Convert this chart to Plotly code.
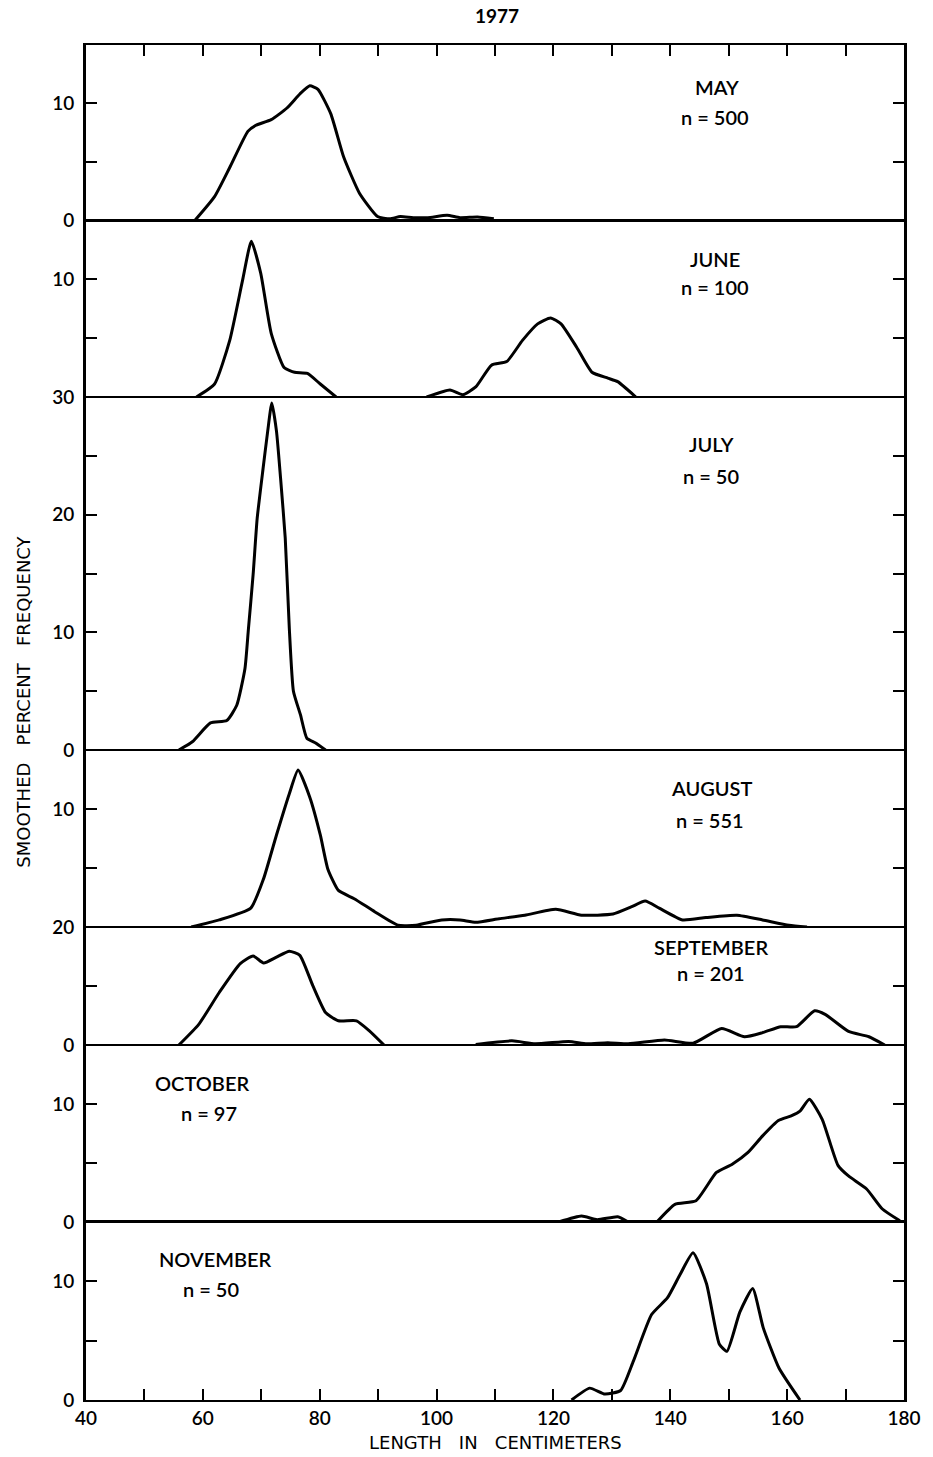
import plotly.graph_objects as go
from plotly.subplots import make_subplots

# ---------------- data ----------------
may_x = [58.7, 62.0, 64.6, 67.7, 69.0, 71.7, 74.4, 76.6, 78.3, 79.7, 81.9, 84.1, 86.8, 89.9, 92.0, 93.8, 96.0, 98.5, 101.8, 104.0, 107.0, 109.8]
may_y = [0.0, 2.0, 4.5, 7.6, 8.1, 8.6, 9.6, 10.8, 11.5, 11.2, 9.1, 5.4, 2.3, 0.3, 0.1, 0.3, 0.2, 0.2, 0.4, 0.2, 0.25, 0.1]

june_x = [58.9, 62.0, 64.6, 66.8, 68.3, 69.9, 71.7, 73.9, 75.7, 77.9, 80.1, 82.8,
          None,
          98.3, 102.3, 104.5, 106.7, 109.4, 112.0, 114.7, 117.3, 119.5, 121.3, 124.0, 126.6, 129.3, 131.0, 134.1]
june_y = [0.0, 1.1, 4.8, 9.9, 13.2, 10.5, 5.4, 2.5, 2.1, 2.0, 1.1, 0.0,
          None,
          0.0, 0.6, 0.2, 0.85, 2.7, 3.0, 4.8, 6.2, 6.7, 6.2, 4.2, 2.1, 1.6, 1.3, 0.0]

july_x = [55.9, 58.2, 61.3, 64.1, 65.8, 67.2, 67.8, 68.6, 69.3, 70.3, 71.1, 71.8, 72.6, 73.3, 74.1, 74.8, 75.5, 76.7, 77.8, 79.3, 81.0]
july_y = [0.0, 0.7, 2.3, 2.5, 3.8, 6.9, 10.3, 14.9, 19.7, 23.9, 27.1, 29.5, 27.1, 23.1, 18.0, 10.3, 5.0, 3.0, 1.0, 0.6, 0.0]

aug_x = [58.0, 62.8, 68.2, 70.4, 72.6, 74.8, 76.3, 78.3, 80.1, 81.4, 83.2, 85.9, 89.4, 93.4, 96.5, 100.9, 104.0, 106.7,
         110.7, 115.1, 120.4, 124.8, 130.2, 133.3, 135.7, 138.1, 142.1, 146.1, 151.4, 155.8, 160.3, 163.4]
aug_y = [0.0, 0.6, 1.6, 4.1, 7.8, 11.3, 13.3, 11.0, 7.8, 4.9, 3.1, 2.4, 1.3, 0.15, 0.15, 0.6, 0.6, 0.4,
         0.7, 1.0, 1.5, 1.0, 1.1, 1.7, 2.2, 1.6, 0.6, 0.8, 1.0, 0.6, 0.15, 0.0]

sep_x = [55.9, 59.3, 62.8, 66.4, 68.6, 70.4, 72.6, 74.8, 76.6, 78.8, 81.0, 83.2, 86.3, 88.5, 91.0,
         None,
         106.7, 112.9, 116.9, 122.6, 125.7, 129.3, 132.8, 139.0, 143.9, 148.8, 152.7, 155.8, 158.9, 161.6, 164.7, 166.5, 170.5, 174.0, 176.7]
sep_y = [0.0, 3.5, 8.9, 13.8, 15.1, 13.9, 14.9, 15.9, 15.2, 10.1, 5.5, 4.1, 4.1, 2.4, 0.0,
         None,
         0.1, 0.7, 0.2, 0.6, 0.2, 0.4, 0.2, 0.85, 0.3, 2.8, 1.4, 2.1, 3.1, 3.1, 5.8, 5.2, 2.3, 1.4, 0.0]

oct_x = [120.9, 124.8, 127.5, 131.0, 132.8,
         None,
         137.7, 140.8, 144.4, 147.9, 150.6, 153.3, 155.8, 158.5, 160.7, 162.2, 163.8, 166.0, 168.7, 170.5, 173.6, 176.3, 179.3]
oct_y = [0.0, 0.5, 0.2, 0.45, 0.0,
         None,
         0.0, 1.5, 1.8, 4.2, 4.9, 5.9, 7.3, 8.6, 9.0, 9.4, 10.4, 8.7, 4.8, 3.9, 2.8, 1.1, 0.1]

nov_x = [123.1, 126.2, 128.8, 131.5, 133.7, 136.8, 139.5, 141.7, 143.9, 146.2, 148.4, 149.7, 151.9, 154.1, 155.9, 158.6, 162.2]
nov_y = [0.0, 1.0, 0.5, 0.8, 3.3, 7.2, 8.6, 10.6, 12.4, 9.8, 4.7, 4.1, 7.4, 9.4, 6.1, 2.7, 0.0]

month_names = ["MAY", "JUNE", "JULY", "AUGUST", "SEPTEMBER", "OCTOBER", "NOVEMBER"]
sample_sizes = ["n = 500", "n = 100", "n = 50", "n = 551", "n = 201", "n = 97", "n = 50"]
series_x = [may_x, june_x, july_x, aug_x, sep_x, oct_x, nov_x]
series_y = [may_y, june_y, july_y, aug_y, sep_y, oct_y, nov_y]

y_ranges = [[0, 15], [0, 15], [0, 30], [0, 15], [0, 20], [0, 15], [0, 15]]
y_tickvals = [[0, 5, 10], [5, 10], [0, 5, 10, 15, 20, 25, 30], [5, 10], [0, 10, 20], [0, 5, 10], [0, 5, 10]]
y_ticktext = [["0", "", "10"], ["", "10"], ["0", "", "10", "", "20", "", "30"], ["", "10"], ["0", "", "20"],
              ["0", "", "10"], ["0", "", "10"]]

x_tickvals = list(range(40, 181, 10))
x_ticktext = [str(v) if v % 20 == 0 else "" for v in x_tickvals]

# ---------------- figure ----------------
W, H = 933, 1457
ML, MR, MT, MB = 86, 20, 45, 57
row_px = [175, 177, 353, 177, 118, 177, 178]

fig = make_subplots(rows=7, cols=1, shared_xaxes=True, vertical_spacing=0, row_heights=row_px)

FONT = "Lato, 'Open Sans', sans-serif"
TITLE_FONT = "'DejaVu Sans', sans-serif"

for i in range(7):
    fig.add_trace(go.Scatter(x=series_x[i], y=series_y[i], mode="lines",
                             line=dict(color="black", width=3, shape="spline", smoothing=0.5),
                             connectgaps=False, showlegend=False, hoverinfo="skip"),
                  row=i + 1, col=1)
    fig.update_yaxes(range=y_ranges[i], tickvals=y_tickvals[i], ticktext=y_ticktext[i],
                     ticks="inside", ticklen=11, tickwidth=2, tickcolor="black",
                     showline=True, linewidth=3, linecolor="black", mirror="ticks",
                     showgrid=False, zeroline=False,
                     tickfont=dict(family=FONT, size=19, color="black", weight=600),
                     ticklabelstandoff=5,
                     row=i + 1, col=1)
    if i == 0:
        fig.update_xaxes(range=[40, 180], tickvals=x_tickvals, ticks="inside", ticklen=11, tickwidth=2,
                         tickcolor="black", side="top", showticklabels=False,
                         showline=True, linewidth=1.5, linecolor="black", mirror=True,
                         showgrid=False, zeroline=False, row=1, col=1)
    elif i == 6:
        fig.update_xaxes(range=[40, 180], tickvals=x_tickvals, ticktext=x_ticktext,
                         ticks="inside", ticklen=11, tickwidth=2, tickcolor="black",
                         showticklabels=True, tickfont=dict(family=FONT, size=19, color="black", weight=600),
                         showline=True, linewidth=1.5, linecolor="black", mirror=True,
                         showgrid=False, zeroline=False, row=7, col=1)
    else:
        fig.update_xaxes(range=[40, 180], ticks="", showticklabels=False,
                         showline=True, linewidth=1.2, linecolor="black", mirror=True,
                         showgrid=False, zeroline=False, row=i + 1, col=1)

plot_h = H - MT - MB
plot_w = W - ML - MR


def px(xp):
    return (xp - ML) / plot_w


def py(yp):
    return (H - MB - yp) / plot_h


label_pos = [  # (name x, name y, n x, n y) in pixels
    (724, 87, 722, 117),
    (722, 259, 722, 287),
    (718, 444, 718, 476),
    (718, 788, 717, 820),
    (718, 947, 718, 973),
    (203, 1083, 210, 1113),
    (217, 1259, 212, 1289),
]

for i in range(7):
    nx, ny, sx, sy = label_pos[i]
    fig.add_annotation(x=px(nx), y=py(ny), xref="paper", yref="paper", text=month_names[i],
                       showarrow=False, xanchor="center", yanchor="middle",
                       font=dict(family=FONT, size=20, color="black", weight=600))
    fig.add_annotation(x=px(sx), y=py(sy), xref="paper", yref="paper", text=sample_sizes[i],
                       showarrow=False, xanchor="center", yanchor="middle",
                       font=dict(family=FONT, size=20, color="black", weight=600))

fig.add_annotation(x=px(502), y=py(15), xref="paper", yref="paper", text="<b>1977</b>",
                   showarrow=False, xanchor="center", yanchor="middle",
                   font=dict(family=FONT, size=19, color="black"))
fig.add_annotation(x=px(22), y=py(702), xref="paper", yref="paper",
                   text="SMOOTHED&nbsp;&nbsp; PERCENT&nbsp;&nbsp; FREQUENCY", textangle=-90,
                   showarrow=False, xanchor="center", yanchor="middle",
                   font=dict(family=TITLE_FONT, size=18, color="black"))
fig.add_annotation(x=px(500), y=py(1442), xref="paper", yref="paper",
                   text="LENGTH&nbsp;&nbsp; IN&nbsp;&nbsp; CENTIMETERS",
                   showarrow=False, xanchor="center", yanchor="middle",
                   font=dict(family=TITLE_FONT, size=18, color="black"))

fig.update_layout(width=W, height=H, margin=dict(l=ML, r=MR, t=MT, b=MB),
                  paper_bgcolor="white", plot_bgcolor="white", showlegend=False)

fig.write_html("out.html")
